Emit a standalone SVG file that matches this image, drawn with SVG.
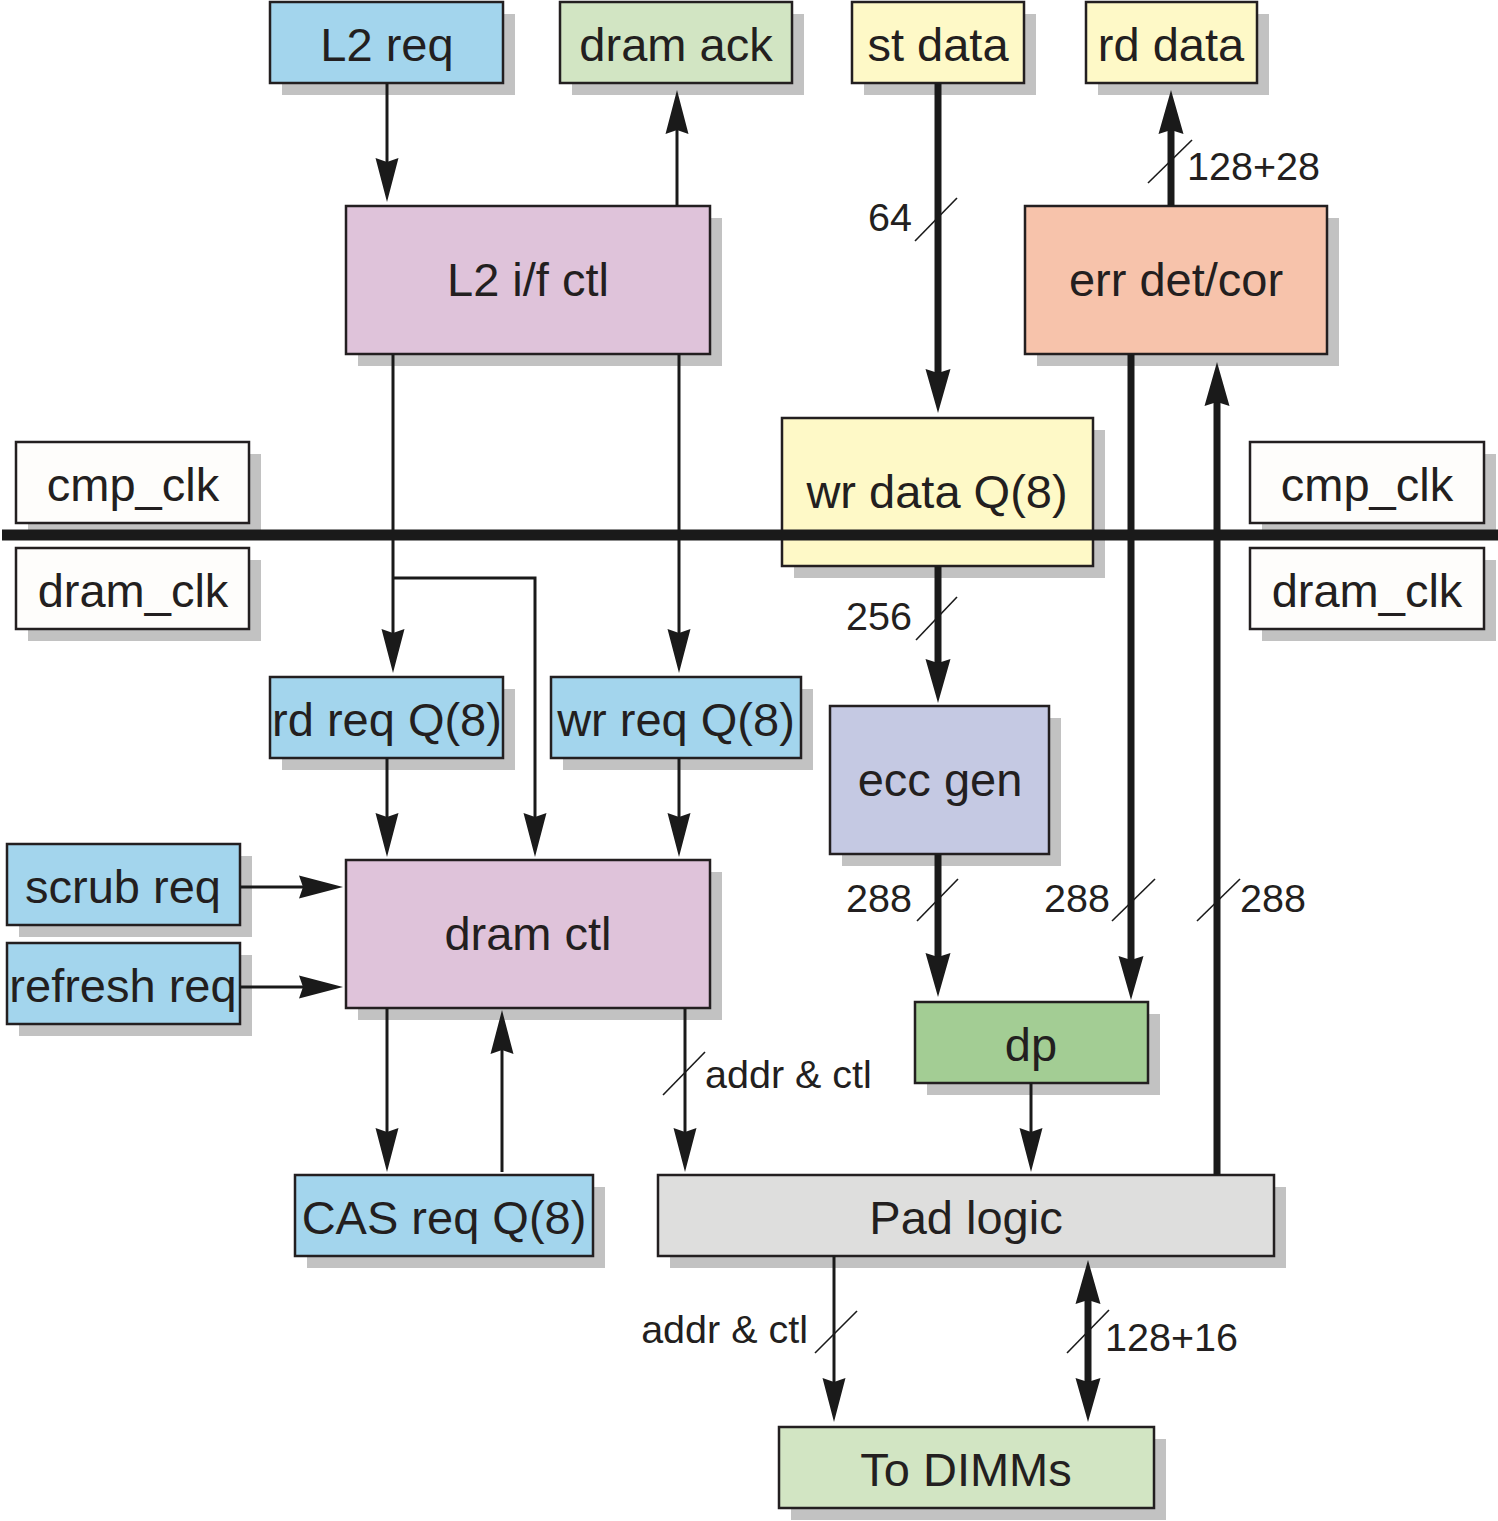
<svg xmlns="http://www.w3.org/2000/svg" width="1498" height="1521" viewBox="0 0 1498 1521">
<defs>
<style>
.box{stroke:#231f20;stroke-width:2.5}
.sh{fill:#c2c2c2}
.t{font-family:"Liberation Sans",Arial,sans-serif;font-size:47px;fill:#231f20;text-anchor:middle}
.lb{font-family:"Liberation Sans",Arial,sans-serif;font-size:39.5px;fill:#231f20}
.thin{stroke:#1a1a1a;stroke-width:3;fill:none}
.thick{stroke:#1a1a1a;stroke-width:7;fill:none}
.sl{stroke:#1a1a1a;stroke-width:1.6}
.blue{fill:#a3d5ed}.pink{fill:#dfc3da}.lg{fill:#d2e5c3}.yel{fill:#fef9c7}.sal{fill:#f7c3ab}.lav{fill:#c5c9e3}.grn{fill:#a3cd94}.gry{fill:#dededd}.wht{fill:#fefdfb}
</style>
<marker id="ah" viewBox="-30 -15 55 30" refX="0" refY="0" markerWidth="55" markerHeight="30" markerUnits="userSpaceOnUse" orient="auto-start-reverse">
<path d="M22,0 L-22,-11.5 L-18,0 L-22,11.5 Z" fill="#1a1a1a"/>
</marker>
<marker id="ahb" viewBox="-30 -15 55 30" refX="0" refY="0" markerWidth="55" markerHeight="30" markerUnits="userSpaceOnUse" orient="auto-start-reverse">
<path d="M22,0 L-22,-12.5 L-18,0 L-22,12.5 Z" fill="#1a1a1a"/>
</marker>
</defs>
<rect width="1498" height="1521" fill="#ffffff"/>

<g id="l2req"><rect class="sh" x="282" y="14" width="233" height="81"/><rect class="box blue" x="270" y="2" width="233" height="81"/><text class="t" x="387" y="61">L2 req</text></g>
<g id="dramack"><rect class="sh" x="572" y="14" width="232" height="81"/><rect class="box lg" x="560" y="2" width="232" height="81"/><text class="t" x="676" y="61">dram ack</text></g>
<g id="stdata"><rect class="sh" x="864" y="14" width="172" height="81"/><rect class="box yel" x="852" y="2" width="172" height="81"/><text class="t" x="938" y="61">st data</text></g>
<g id="rddata"><rect class="sh" x="1098" y="14" width="171" height="81"/><rect class="box yel" x="1086" y="2" width="171" height="81"/><text class="t" x="1171" y="61">rd data</text></g>
<g id="l2ifctl"><rect class="sh" x="358" y="218" width="364" height="148"/><rect class="box pink" x="346" y="206" width="364" height="148"/><text class="t" x="528" y="296">L2 i/f ctl</text></g>
<g id="errdetcor"><rect class="sh" x="1037" y="218" width="302" height="148"/><rect class="box sal" x="1025" y="206" width="302" height="148"/><text class="t" x="1176" y="296">err det/cor</text></g>
<g id="cmpclkL"><rect class="sh" x="28" y="454" width="233" height="81"/><rect class="box wht" x="16" y="442" width="233" height="81"/><text class="t" x="133" y="501">cmp_clk</text></g>
<g id="dramclkL"><rect class="sh" x="28" y="560" width="233" height="81"/><rect class="box wht" x="16" y="548" width="233" height="81"/><text class="t" x="133" y="607">dram_clk</text></g>
<g id="cmpclkR"><rect class="sh" x="1262" y="454" width="234" height="81"/><rect class="box wht" x="1250" y="442" width="234" height="81"/><text class="t" x="1367" y="501">cmp_clk</text></g>
<g id="dramclkR"><rect class="sh" x="1262" y="560" width="234" height="81"/><rect class="box wht" x="1250" y="548" width="234" height="81"/><text class="t" x="1367" y="607">dram_clk</text></g>
<g id="wrdataq"><rect class="sh" x="794" y="430" width="311" height="148"/><rect class="box yel" x="782" y="418" width="311" height="148"/><text class="t" x="937" y="508">wr data Q(8)</text></g>
<g id="rdreqq"><rect class="sh" x="282" y="689" width="233" height="81"/><rect class="box blue" x="270" y="677" width="233" height="81"/><text class="t" x="387" y="736">rd req Q(8)</text></g>
<g id="wrreqq"><rect class="sh" x="563" y="689" width="250" height="81"/><rect class="box blue" x="551" y="677" width="250" height="81"/><text class="t" x="676" y="736">wr req Q(8)</text></g>
<g id="eccgen"><rect class="sh" x="842" y="718" width="219" height="148"/><rect class="box lav" x="830" y="706" width="219" height="148"/><text class="t" x="940" y="796">ecc gen</text></g>
<g id="scrubreq"><rect class="sh" x="19" y="856" width="233" height="81"/><rect class="box blue" x="7" y="844" width="233" height="81"/><text class="t" x="123" y="903">scrub req</text></g>
<g id="refreshreq"><rect class="sh" x="19" y="955" width="233" height="81"/><rect class="box blue" x="7" y="943" width="233" height="81"/><text class="t" x="123" y="1002">refresh req</text></g>
<g id="dramctl"><rect class="sh" x="358" y="872" width="364" height="148"/><rect class="box pink" x="346" y="860" width="364" height="148"/><text class="t" x="528" y="950">dram ctl</text></g>
<g id="dp"><rect class="sh" x="927" y="1014" width="233" height="81"/><rect class="box grn" x="915" y="1002" width="233" height="81"/><text class="t" x="1031" y="1061">dp</text></g>
<g id="casreqq"><rect class="sh" x="307" y="1187" width="298" height="81"/><rect class="box blue" x="295" y="1175" width="298" height="81"/><text class="t" x="444" y="1234">CAS req Q(8)</text></g>
<g id="padlogic"><rect class="sh" x="670" y="1187" width="616" height="81"/><rect class="box gry" x="658" y="1175" width="616" height="81"/><text class="t" x="966" y="1234">Pad logic</text></g>
<g id="todimms"><rect class="sh" x="791" y="1439" width="375" height="81"/><rect class="box lg" x="779" y="1427" width="375" height="81"/><text class="t" x="966" y="1486">To DIMMs</text></g>

<g id="clockline"><line x1="2" y1="535" x2="1498" y2="535" stroke="#1a1a1a" stroke-width="11"/></g>

<g id="connectors">
<line class="thin" x1="387" y1="83" x2="387" y2="180" marker-end="url(#ah)"/>
<line class="thin" x1="677" y1="206" x2="677" y2="112" marker-end="url(#ah)"/>
<line class="thick" x1="938" y1="83" x2="938" y2="391" marker-end="url(#ahb)"/>
<line class="thick" x1="1171" y1="206" x2="1171" y2="112" marker-end="url(#ahb)"/>
<line class="thin" x1="393" y1="354" x2="393" y2="651" marker-end="url(#ah)"/>
<path class="thin" d="M393,578 H535 V835" marker-end="url(#ah)"/>
<line class="thin" x1="679" y1="354" x2="679" y2="651" marker-end="url(#ah)"/>
<line class="thick" x1="938" y1="566" x2="938" y2="681" marker-end="url(#ahb)"/>
<line class="thick" x1="1131" y1="354" x2="1131" y2="978" marker-end="url(#ahb)"/>
<line class="thick" x1="1217" y1="1175" x2="1217" y2="384" marker-end="url(#ahb)"/>
<line class="thick" x1="938" y1="854" x2="938" y2="975" marker-end="url(#ahb)"/>
<line class="thin" x1="387" y1="758" x2="387" y2="835" marker-end="url(#ah)"/>
<line class="thin" x1="679" y1="758" x2="679" y2="835" marker-end="url(#ah)"/>
<line class="thin" x1="240" y1="887" x2="321" y2="887" marker-end="url(#ah)"/>
<line class="thin" x1="240" y1="987" x2="321" y2="987" marker-end="url(#ah)"/>
<line class="thin" x1="387" y1="1008" x2="387" y2="1150" marker-end="url(#ah)"/>
<line class="thin" x1="502" y1="1172" x2="502" y2="1032" marker-end="url(#ah)"/>
<line class="thin" x1="685" y1="1008" x2="685" y2="1150" marker-end="url(#ah)"/>
<line class="thin" x1="1031" y1="1083" x2="1031" y2="1150" marker-end="url(#ah)"/>
<line class="thin" x1="834" y1="1256" x2="834" y2="1400" marker-end="url(#ah)"/>
<line class="thick" x1="1088" y1="1282" x2="1088" y2="1400" marker-start="url(#ahb)" marker-end="url(#ahb)"/>

<line class="sl" x1="915" y1="241" x2="957" y2="198"/>
<text class="lb" x="868" y="231">64</text>
<line class="sl" x1="1148" y1="183" x2="1192" y2="140"/>
<text class="lb" x="1187" y="180">128+28</text>
<line class="sl" x1="916" y1="640" x2="957" y2="597"/>
<text class="lb" x="846" y="630">256</text>
<line class="sl" x1="917" y1="921" x2="958" y2="879"/>
<text class="lb" x="846" y="912">288</text>
<line class="sl" x1="1112" y1="921" x2="1155" y2="879"/>
<text class="lb" x="1044" y="912">288</text>
<line class="sl" x1="1197" y1="921" x2="1240" y2="879"/>
<text class="lb" x="1240" y="912">288</text>
<line class="sl" x1="663" y1="1095" x2="705" y2="1052"/>
<text class="lb" x="705" y="1088">addr &amp; ctl</text>
<line class="sl" x1="815" y1="1353" x2="857" y2="1311"/>
<text class="lb" x="808" y="1343" text-anchor="end">addr &amp; ctl</text>
<line class="sl" x1="1067" y1="1353" x2="1109" y2="1310"/>
<text class="lb" x="1105" y="1351">128+16</text>
</g>
</svg>
